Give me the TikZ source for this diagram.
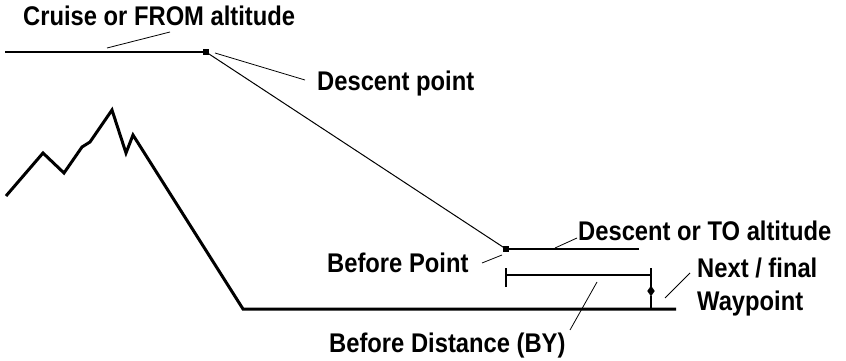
\documentclass[tikz,border=0pt]{standalone}
\usepackage{fontspec}
\setmainfont{Liberation Sans}
\newfontfamily\lblfont[FakeStretch=0.88]{Liberation Sans}
\usetikzlibrary{positioning,shapes.geometric}

\begin{document}
\begin{tikzpicture}[x=1pt, y=-1pt,
  lbl/.style={font=\lblfont\fontsize{27}{33}\selectfont\bfseries, anchor=base west, inner sep=0pt},
  fix/.style={draw, fill, rectangle, minimum size=5pt, inner sep=0pt},
  wpmark/.style={draw, fill, diamond, minimum width=7pt, minimum height=10pt, inner sep=0pt},
  thin line/.style={line width=1pt},
  path line/.style={line width=1.3pt},
  terrain/.style={line width=3pt, line join=miter},
  leader/.style={line width=0.8pt}]
\useasboundingbox (0,0) rectangle (846,361);
% altitudes and descent path
\coordinate (cruise) at (5,52);
\node[fix] (dp) at (206,52) {};
\node[fix] (bp) at (506,249) {};
\coordinate (toend) at (639,249);
\draw[path line] (cruise) -- (dp);
\draw[thin line] (dp) -- (bp);
\draw[path line] (bp) -- (toend);
% terrain
\coordinate (gndend) at (676,309);
\draw[terrain] (6,196) -- (43,153) -- (64,173) -- (82,147) -- (90,142) -- (112,110)
  -- (126,153) -- (133,135) -- (243,309) -- (gndend);
% before distance
\coordinate (bdl) at (506,275);
\coordinate (bdr) at (651,275);
\draw[path line] (bdl) -- (bdr);
\draw[path line] ([yshift=-12pt]bdl) -- ([yshift=7pt]bdl);
\draw[path line] ([yshift=-12pt]bdr) -- ([yshift=7pt]bdr);
\node[wpmark] (wm) at (651,291) {};
\coordinate (wp) at (651,309);
\draw[line width=1.5pt] (wm) -- (wp);
% labels
\node[lbl] (cruiselbl) at (23,26) {Cruise or FROM altitude};
\node[lbl] (dplbl) at (317,91) {Descent point};
\node[lbl] (bplbl) at (327,272) {Before Point};
\node[lbl] (tolbl) at (578,240) {Descent or TO altitude};
\node[lbl] (wplbl) at (697,277) {Next / final};
\node[lbl] (wplbl2) at (697,310) {Waypoint};
\node[lbl] (bdlbl) at (329,352) {Before Distance (BY)};
% leaders
\draw[leader] (107,48) -- (170,32);
\draw[leader] (215,53) -- (305,80);
\draw[leader] (482,263) -- (502,255);
\draw[leader] (555,248) -- (577,238);
\draw[leader] (665,298) -- (690,273);
\draw[leader] (597,282) -- (570,330);
\end{tikzpicture}
\end{document}
